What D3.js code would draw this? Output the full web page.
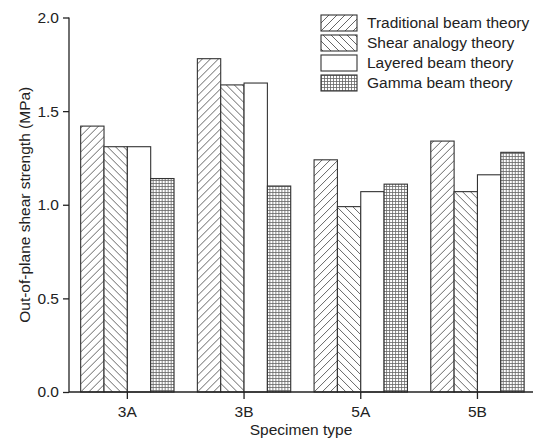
<!DOCTYPE html>
<html><head><meta charset="utf-8">
<script src="https://cdn.jsdelivr.net/npm/d3@7"></script>
<style>body{margin:0;background:#fff}svg{display:block}text{font-family:"Liberation Sans",Arial,sans-serif;fill:#222}</style>
</head><body><svg id="c" width="533" height="442"></svg>
<script>
const categories = ["3A","3B","5A","5B"];
const seriesNames = ["Traditional beam theory","Shear analogy theory","Layered beam theory","Gamma beam theory"];
const traditional = [1.42,1.78,1.24,1.34];
const shear = [1.31,1.64,0.99,1.07];
const layered = [1.31,1.65,1.07,1.16];
const gamma = [1.14,1.10,1.11,1.28];
const yTicks = [0,0.5,1.0,1.5,2.0];
const seriesValues = [traditional, shear, layered, gamma];
const fills = ["url(#pSlash)","url(#pBack)","#fff","url(#pGrid)"];

const svg = d3.select("#c");
const defs = svg.append("defs");
const s1 = defs.append("pattern").attr("id","pSlash").attr("patternUnits","userSpaceOnUse").attr("width",8).attr("height",8);
s1.append("rect").attr("width",8).attr("height",8).attr("fill","#fff");
s1.append("path").attr("d","M-2,2 L2,-2 M0,8 L8,0 M6,10 L10,6").attr("stroke","#555").attr("stroke-width",0.9);
const s2 = defs.append("pattern").attr("id","pBack").attr("patternUnits","userSpaceOnUse").attr("width",8).attr("height",8);
s2.append("rect").attr("width",8).attr("height",8).attr("fill","#fff");
s2.append("path").attr("d","M-2,6 L2,10 M0,0 L8,8 M6,-2 L10,2").attr("stroke","#555").attr("stroke-width",0.9);
const s3 = defs.append("pattern").attr("id","pGrid").attr("patternUnits","userSpaceOnUse").attr("width",3).attr("height",3);
s3.append("rect").attr("width",3).attr("height",3).attr("fill","#fff");
s3.append("path").attr("d","M0,0.5 H3 M0.5,0 V3").attr("stroke","#666").attr("stroke-width",0.8);

const x0 = 69, yBase = 392, yTop = 17.5;
const x = d3.scaleBand().domain(categories).range([x0, x0 + 4*116.7]).paddingInner(0.2).paddingOuter(0.1);
const xs = d3.scaleBand().domain(seriesNames).range([0, x.bandwidth()]);
const y = d3.scaleLinear().domain([0,2]).range([yBase, yTop]);

const groups = svg.append("g").selectAll("g").data(categories).join("g")
  .attr("transform", c => `translate(${x(c)},0)`);
groups.selectAll("rect").data((c,i) => seriesNames.map((s,j) => ({s, j, v: seriesValues[j][i]})))
  .join("rect")
  .attr("x", d => xs(d.s)).attr("width", xs.bandwidth())
  .attr("y", d => y(d.v)).attr("height", d => yBase - y(d.v))
  .attr("fill", d => fills[d.j]).attr("stroke","#333").attr("stroke-width",1.1);

const ya = svg.append("g").attr("transform",`translate(${x0},0)`)
  .call(d3.axisLeft(y).tickValues(yTicks).tickFormat(d3.format(".1f")).tickSize(6).tickPadding(4));
ya.attr("font-size",null).attr("font-family",null);
ya.select(".domain").attr("stroke","#222").attr("stroke-width",1.3).attr("d",`M0,${yBase}V${yTop}`);
ya.selectAll(".tick line").attr("stroke","#222").attr("stroke-width",1.3);
ya.selectAll("text").style("font-size","15.5px").attr("fill","#222");

const xa = svg.append("g").attr("transform",`translate(0,${yBase})`)
  .call(d3.axisBottom(x).tickSize(7).tickPadding(7).tickSizeOuter(0));
xa.attr("font-size",null).attr("font-family",null);
xa.select(".domain").attr("stroke","#222").attr("stroke-width",1.5).attr("d",`M${x0},0H533`);
xa.selectAll(".tick line").attr("stroke","#222").attr("stroke-width",1.3);
xa.selectAll("text").style("font-size","15.5px").attr("fill","#222");

svg.append("text").attr("x",301).attr("y",435).attr("text-anchor","middle").style("font-size","15.5px").text("Specimen type");
svg.append("text").attr("transform",`translate(30,${(yBase+yTop)/2}) rotate(-90)`).attr("text-anchor","middle").style("font-size","15.5px").text("Out-of-plane shear strength (MPa)");

const lg = svg.append("g");
seriesNames.forEach((s,j) => {
  const gy = 15 + j*20;
  lg.append("rect").attr("x",321).attr("y",gy).attr("width",36).attr("height",16)
    .attr("fill",fills[j]).attr("stroke","#333").attr("stroke-width",1.1);
  lg.append("text").attr("x",367).attr("y",gy+13).style("font-size","15.5px").text(s);
});
</script></body></html>
